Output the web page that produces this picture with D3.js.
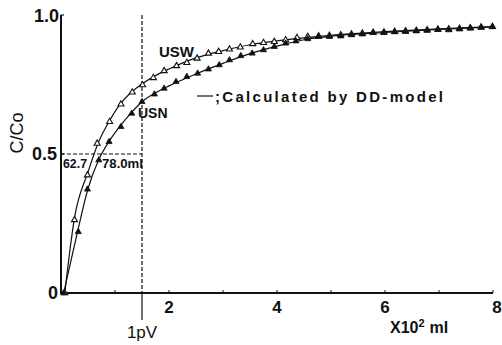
<!DOCTYPE html>
<html><head><meta charset="utf-8">
<script src="https://cdn.jsdelivr.net/npm/d3@7"></script>
<style>body{margin:0;background:#fff}svg{display:block}text{font-family:"Liberation Sans",Arial,sans-serif;fill:#111}</style>
</head><body><svg id="c" width="502" height="345"></svg>
<script>
// Data (x in units of 10^2 ml, y = C/Co)
const uswX = [0.07,0.25,0.49,0.67,0.90,1.11,1.32,1.51,1.71,1.91,2.14,2.33,2.52,2.73,2.92,3.12,3.32,3.55,3.75,3.95,4.16,4.37,4.57,4.77,4.97,5.18,5.38,5.58,5.78,5.98,6.18,6.38,6.58,6.78,6.98,7.18,7.38,7.58,7.78,7.99];
const uswY = [0.0,0.263,0.424,0.538,0.616,0.679,0.722,0.748,0.774,0.799,0.817,0.828,0.844,0.862,0.868,0.877,0.884,0.896,0.900,0.904,0.910,0.918,0.922,0.924,0.926,0.928,0.931,0.934,0.937,0.938,0.940,0.942,0.944,0.946,0.948,0.949,0.951,0.953,0.956,0.958];
const usnX = [0.05,0.32,0.49,0.70,0.89,1.11,1.31,1.50,1.73,1.91,2.13,2.33,2.53,2.73,2.93,3.12,3.33,3.54,3.75,3.95,4.16,4.35,4.57,4.77,4.97,5.18,5.38,5.58,5.78,5.98,6.18,6.38,6.58,6.78,6.98,7.18,7.38,7.58,7.78,7.99];
const usnY = [0.0,0.22,0.373,0.478,0.544,0.598,0.646,0.688,0.715,0.736,0.760,0.778,0.790,0.805,0.820,0.838,0.853,0.862,0.874,0.886,0.898,0.906,0.914,0.922,0.922,0.924,0.928,0.931,0.936,0.936,0.939,0.940,0.942,0.944,0.947,0.946,0.949,0.952,0.955,0.957];
// Calculated by DD-model curves
const modelUswX = [0.07,0.25,0.5,0.7,0.9,1.1,1.3,1.5,1.75,2,2.5,3,3.5,4,4.5,5,6,7,8];
const modelUswY = [0,0.27,0.435,0.545,0.62,0.68,0.722,0.752,0.782,0.806,0.846,0.872,0.893,0.907,0.918,0.927,0.94,0.95,0.958];
const modelUsnX = [0.05,0.3,0.5,0.7,0.9,1.1,1.3,1.5,1.75,2,2.5,3,3.5,4,4.5,5,6,7,8];
const modelUsnY = [0,0.215,0.375,0.48,0.548,0.602,0.648,0.688,0.72,0.745,0.788,0.826,0.861,0.888,0.911,0.924,0.937,0.948,0.957];
const xTicks = [2,4,6,8];
const xMinorTicks = [1,2,3,4,5,6,7,8];
const yTickLabels = [["0",0],["0.5",0.5],["1.0",1.0]];
const pV = 1.5;          // 1 pore volume (x10^2 ml)
const halfLabels = ["62.7","78.0ml"];

const svg = d3.select("#c");
const x = d3.scaleLinear().domain([0,8]).range([61,493]);
const y = d3.scaleLinear().domain([0,1]).range([293,15]);
const B = "bold";

// axes lines
svg.append("line").attr("x1",x(0)).attr("x2",x(0)).attr("y1",y(1)).attr("y2",y(0)+1).attr("stroke","#111").attr("stroke-width",2);
svg.append("line").attr("x1",x(0)).attr("x2",x(8)).attr("y1",y(0)).attr("y2",y(0)).attr("stroke","#111").attr("stroke-width",1.8);
// x minor ticks (upward)
svg.selectAll(".xt").data(xMinorTicks).join("line").attr("x1",d=>x(d)).attr("x2",d=>x(d)).attr("y1",y(0)).attr("y2",y(0)-3).attr("stroke","#111").attr("stroke-width",1);
// y ticks at 1.0 and 0.5
svg.selectAll(".yt").data([0.5,1.0]).join("line").attr("x1",x(0)).attr("x2",x(0)+3).attr("y1",d=>y(d)).attr("y2",d=>y(d)).attr("stroke","#111").attr("stroke-width",1.2);

// tick labels
svg.selectAll(".xl").data(xTicks).join("text").attr("x",d=>x(d)+(d===8?4:0)).attr("y",313).attr("text-anchor","middle")
  .attr("font-size",17).attr("font-weight",B).text(d=>d);
svg.selectAll(".yl").data(yTickLabels).join("text").attr("x",d=>d[1]===0?58:(d[1]===1?59:57)).attr("y",d=>y(d[1])+(d[1]===0?6:(d[1]===1?7:6)))
  .attr("text-anchor","end").attr("font-size",18).attr("font-weight",B).text(d=>d[0]);

// y title
svg.append("text").attr("transform","translate(23,133) rotate(-90)").attr("text-anchor","middle").attr("font-size",18).text("C/Co");
// x title
const xt = svg.append("text").attr("x",390).attr("y",333).attr("font-size",16).attr("font-weight",B);
xt.append("tspan").text("X10");
xt.append("tspan").attr("dy",-6).attr("font-size",11).text("2");
xt.append("tspan").attr("dy",6).attr("dx",5).text("ml");

// 1pV dashed line
svg.append("line").attr("x1",x(pV)).attr("x2",x(pV)).attr("y1",y(1)).attr("y2",y(0)).attr("stroke","#111").attr("stroke-width",1.2).attr("stroke-dasharray","4,2");
svg.append("line").attr("x1",x(pV)).attr("x2",x(pV)).attr("y1",y(0)).attr("y2",y(0)+27).attr("stroke","#111").attr("stroke-width",1.2);
svg.append("text").attr("x",x(pV)).attr("y",338).attr("text-anchor","middle").attr("font-size",17).text("1pV");
// 0.5 dashed line
svg.append("line").attr("x1",x(0)).attr("x2",x(pV)).attr("y1",y(0.5)).attr("y2",y(0.5)).attr("stroke","#111").attr("stroke-width",1.2).attr("stroke-dasharray","4,2");
svg.append("text").attr("x",63).attr("y",168).attr("font-size",13).attr("font-weight",B).attr("textLength",24).attr("lengthAdjust","spacingAndGlyphs").text(halfLabels[0]);
svg.append("text").attr("x",102).attr("y",168).attr("font-size",13).attr("font-weight",B).attr("textLength",41).attr("lengthAdjust","spacingAndGlyphs").text(halfLabels[1]);

// model curves
const line = d3.line().x(d=>x(d[0])).y(d=>y(d[1])).curve(d3.curveMonotoneX);
svg.append("path").attr("d",line(d3.zip(modelUswX,modelUswY))).attr("fill","none").attr("stroke","#111").attr("stroke-width",1.2);
svg.append("path").attr("d",line(d3.zip(modelUsnX,modelUsnY))).attr("fill","none").attr("stroke","#111").attr("stroke-width",1.2);

// markers
const tri = d3.symbol().type(d3.symbolTriangle).size(16);
svg.selectAll(".usw").data(d3.zip(uswX,uswY)).join("path").attr("transform",d=>`translate(${x(d[0])},${y(d[1])})`)
  .attr("d",tri).attr("fill","#fff").attr("stroke","#111").attr("stroke-width",1.1);
svg.selectAll(".usn").data(d3.zip(usnX,usnY)).join("path").attr("transform",d=>`translate(${x(d[0])},${y(d[1])})`)
  .attr("d",tri).attr("fill","#111").attr("stroke","#111").attr("stroke-width",0.8);

// labels
svg.append("text").attr("x",159).attr("y",57).attr("font-size",15).attr("font-weight",B).text("USW");
svg.append("text").attr("x",138).attr("y",118).attr("font-size",14).attr("font-weight",B).text("USN");
// legend
svg.append("line").attr("x1",197).attr("x2",213).attr("y1",96).attr("y2",96).attr("stroke","#111").attr("stroke-width",1.2);
svg.append("text").attr("x",215).attr("y",102).attr("font-size",15).attr("font-weight",B).attr("textLength",228).attr("lengthAdjust","spacing").text(";Calculated by DD-model");
</script></body></html>
